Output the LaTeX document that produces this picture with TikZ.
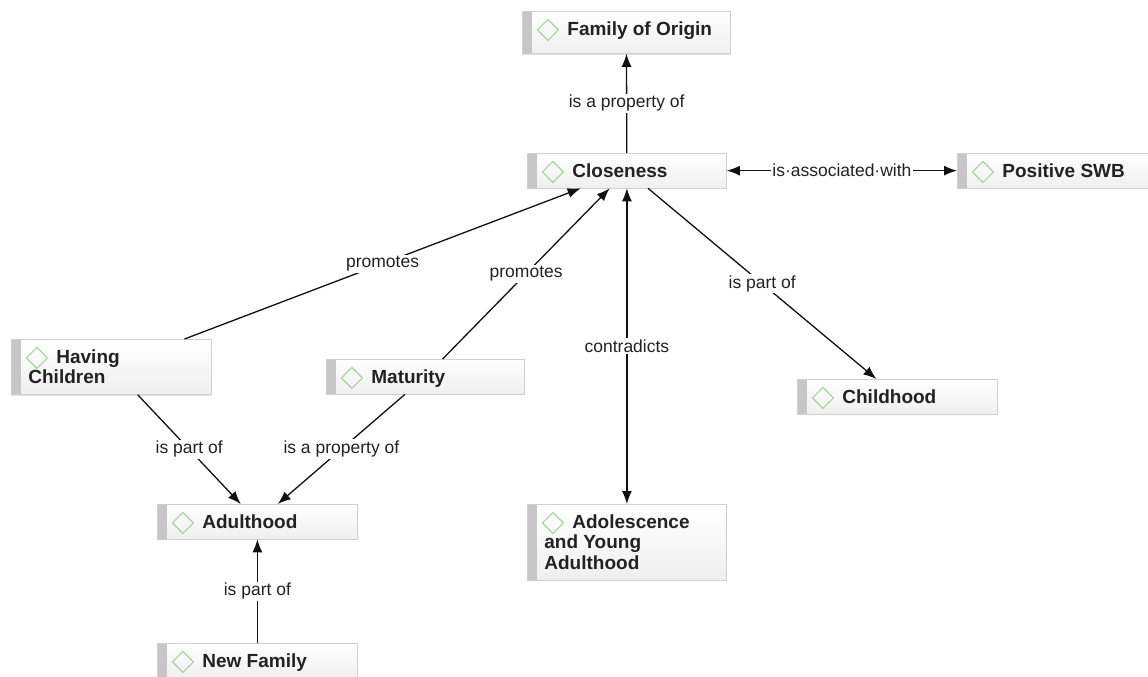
\documentclass[tikz,border=0pt]{standalone}
\usepackage{fontspec}
\setmainfont{Liberation Sans}
\usetikzlibrary{arrows.meta,shadows}

\definecolor{boxline}{HTML}{CFCFCF}
\definecolor{boxbar}{HTML}{C6C6C6}
\definecolor{boxtop}{HTML}{FFFFFF}
\definecolor{boxbottom}{HTML}{EFEFEF}
\definecolor{icon}{HTML}{A3D897}
\definecolor{ink}{HTML}{222222}
\definecolor{wire}{HTML}{111111}

% concept text: 17pt left margin, room for the icon on the first line,
% first baseline 24pt below the top, last baseline #2 above the bottom
\newcommand{\concepttext}[3][200pt]{%
  \hspace*{17pt}%
  \begin{minipage}[t]{\dimexpr#1-17pt\relax}\raggedright
    \rule{0pt}{24pt}\hspace*{28pt}#3\rule[-#2]{0pt}{0pt}%
  \end{minipage}}

\tikzset{
  concept/.style={
    draw=boxline, line width=0.8pt,
    top color=boxtop, bottom color=boxbottom,
    anchor=north west, inner sep=0pt, text=ink,
    font=\fontsize{19}{20.5}\selectfont\bfseries,
    drop shadow={shadow xshift=0pt, shadow yshift=-1.5pt, opacity=0.12, fill=black},
    path picture={
      \fill[boxbar] (path picture bounding box.south west)
        rectangle ([xshift=10pt]path picture bounding box.north west);
      \draw[icon, line width=1.1pt, line join=miter]
        ([shift={(25.5pt,-8pt)}]path picture bounding box.north west)
        -- ++(10.5pt,-10.5pt) -- ++(-10.5pt,-10.5pt) -- ++(-10.5pt,10.5pt) -- cycle;
    }
  },
  link/.style={draw=wire, line width=1.3pt},
  tip/.tip={Latex[length=13pt,width=10pt]},
  lab/.style={fill=white, inner sep=1.5pt, text=ink,
    font=\fontsize{17.5}{20}\selectfont}
}

\begin{document}
\begin{tikzpicture}[x=1pt, y=-1pt]
  \clip (0,0) rectangle (1148,677);
  \fill[white] (0,0) rectangle (1148,677);

  % concepts
  \node[concept] (foo)   at (522,11)  {\concepttext[208pt]{18pt}{Family of Origin}};
  \node[concept] (close) at (527,153) {\concepttext[199pt]{10.5pt}{Closeness}};
  \node[concept] (pos)   at (957,153) {\concepttext{10.5pt}{Positive SWB}};
  \node[concept] (hc)    at (11,339)  {\concepttext{10.5pt}{Having\\Children}};
  \node[concept] (mat)   at (326,359) {\concepttext[198pt]{10.5pt}{Maturity}};
  \node[concept] (child) at (797,379) {\concepttext{10.5pt}{Childhood}};
  \node[concept] (adult) at (157,504) {\concepttext{10.5pt}{Adulthood}};
  \node[concept] (adol)  at (527,504) {\concepttext[199pt]{10.5pt}{Adolescence\\and Young\\Adulthood}};
  \node[concept] (newf)  at (157,643) {\concepttext{10.5pt}{New Family}};

  % relations
  \draw[link,-{tip}] (close) -- node[lab]{is a property of} (foo);
  \draw[link,{tip}-{tip}] (close) -- node[lab]{is·associated·with} (pos);
  \draw[link,-{tip}] (hc) -- node[lab]{promotes} (close);
  \draw[link,-{tip}] (mat) -- node[lab]{promotes} (close);
  \draw[link,{tip}-{tip}] (close) -- node[lab]{contradicts} (adol);
  \draw[link,-{tip}] (close) -- node[lab]{is part of} (child);
  \draw[link,-{tip}] (hc) -- node[lab]{is part of} (adult);
  \draw[link,-{tip}] (mat) -- node[lab]{is a property of} (adult);
  \draw[link,-{tip}] (newf) -- node[lab]{is part of} (adult);
\end{tikzpicture}
\end{document}
